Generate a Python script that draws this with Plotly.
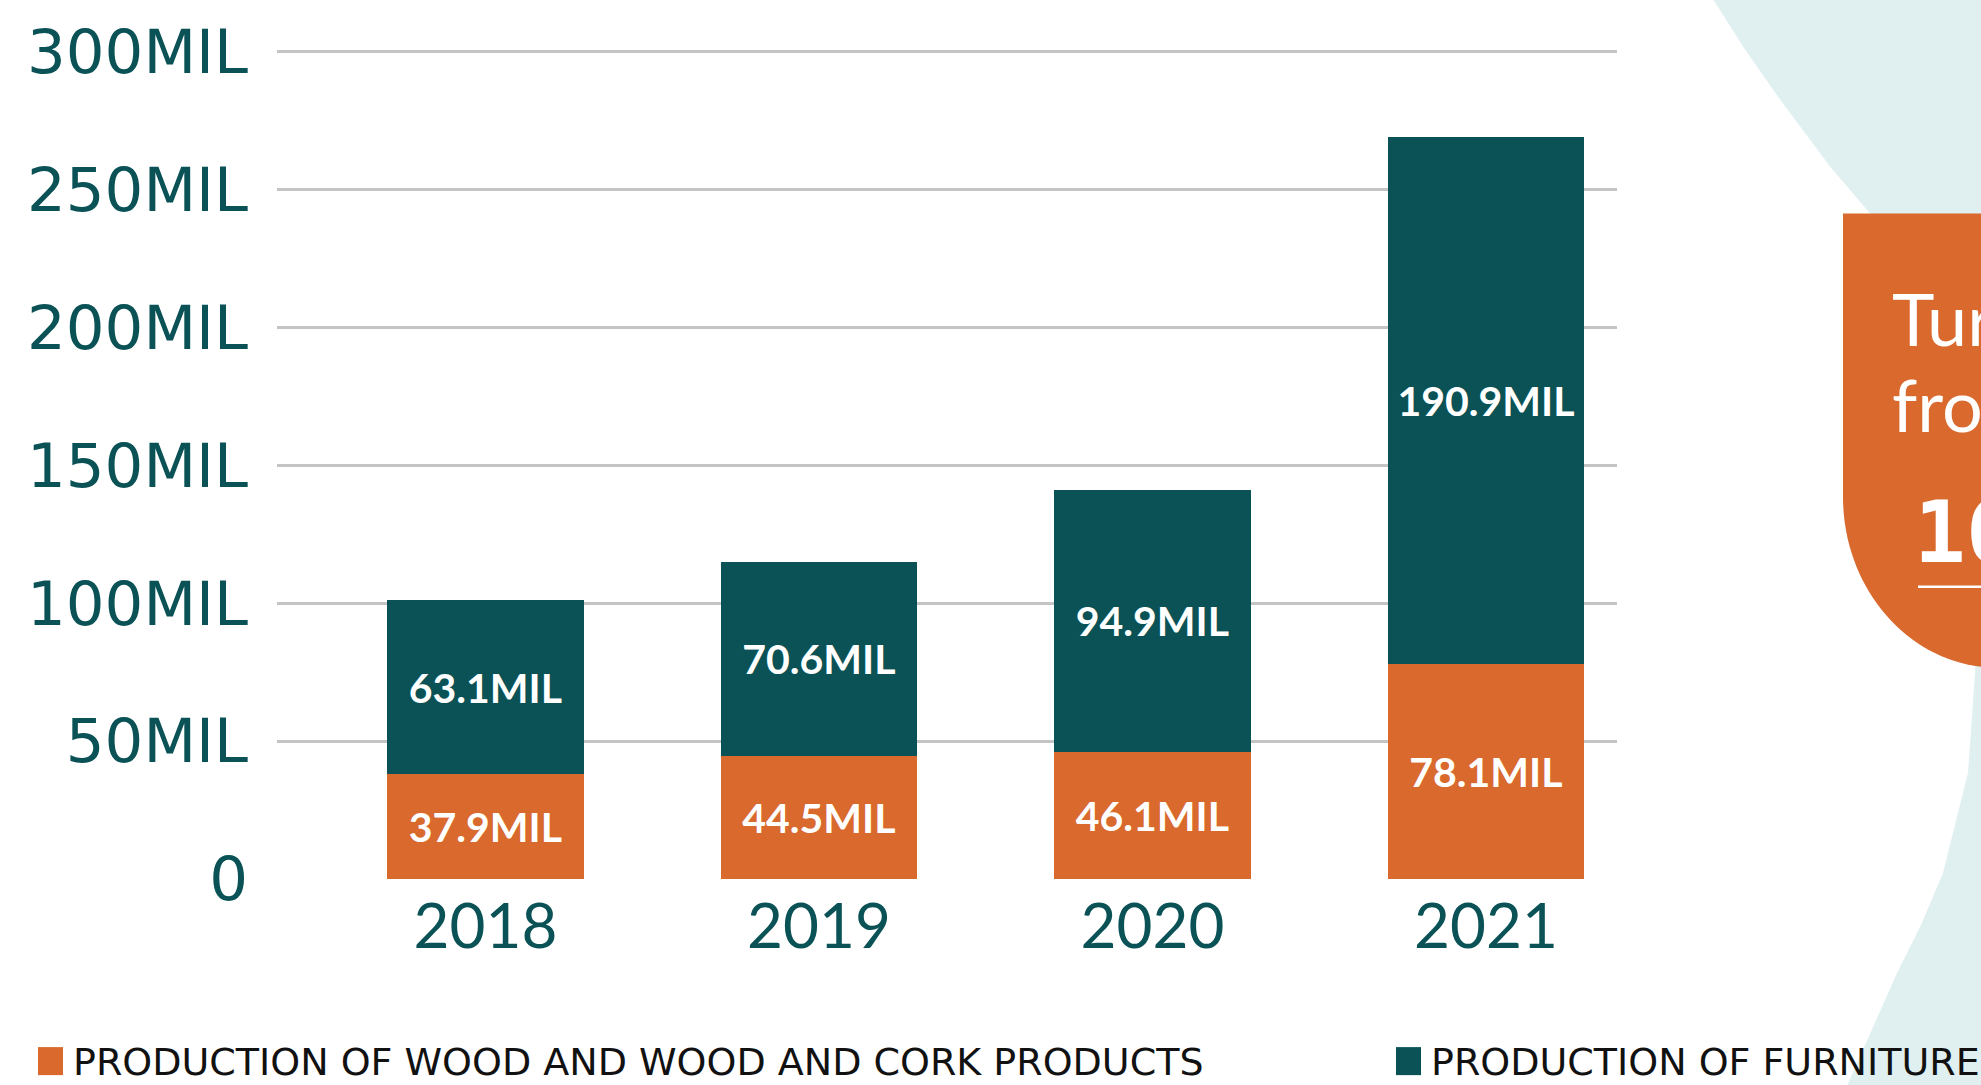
import plotly.graph_objects as go

# ---------------- data ----------------
years = ["2018", "2019", "2020", "2021"]
wood_cork = [37.9, 44.5, 46.1, 78.1]
furniture = [63.1, 70.6, 94.9, 190.9]
series_names = ["PRODUCTION OF WOOD AND WOOD AND CORK PRODUCTS", "PRODUCTION OF FURNITURE"]
y_tick_vals = [0, 50, 100, 150, 200, 250, 300]
y_tick_text = ["0", "50MIL", "100MIL", "150MIL", "200MIL", "250MIL", "300MIL"]
callout_lines = ["Turnover", "from", "16"]

# ---------------- style ----------------
ORANGE = "#D9692D"
TEAL = "#0A5256"
LIGHT = "#E0F0F0"
GRID = "#C4C4C4"

W, H = 1981, 1085
Y_MAX = 302
PX_PER_UNIT = (879 - 52) / 300.0
L_, R_, B_ = 277, 1617, 879
T_ = B_ - Y_MAX * PX_PER_UNIT  # plot area top in pixels


def px(x):
    return (x - L_) / (R_ - L_)


def py(y):
    return (B_ - y) / (B_ - T_)


def path(cmds):
    out = []
    for c in cmds:
        if isinstance(c, str):
            out.append(c)
        else:
            out.append(f"{px(c[0]):.5f},{py(c[1]):.5f}")
    return " ".join(out)


fig = go.Figure()
for vals, name, col in [(wood_cork, series_names[0], ORANGE), (furniture, series_names[1], TEAL)]:
    fig.add_trace(go.Bar(
        x=years, y=vals, name=name,
        marker=dict(color=col, line=dict(width=0)),
        texttemplate="%{y:.1f}MIL", textposition="inside", insidetextanchor="middle",
        textfont=dict(family="Lato", size=41, color="white", weight="bold"),
        width=0.59,
    ))

shapes = []
# light teal background blobs
upper_pts = [(1712, -2), (1745, 50), (1780, 100), (1830, 167), (1870, 214), (1920, 290), (1990, 420)]
cmds = ["M", upper_pts[0]]
for p in upper_pts[1:]:
    cmds += ["L", p]
cmds += ["L", (1990, -2), "Z"]
shapes.append(dict(type="path", xref="paper", yref="paper", layer="below",
                   path=path(cmds), fillcolor=LIGHT, line=dict(width=0)))

lower_pts = [(1978, 620), (1975, 673), (1968, 773), (1943, 873), (1921, 925), (1897, 973), (1845, 1090)]
cmds = ["M", lower_pts[0]]
for p in lower_pts[1:]:
    cmds += ["L", p]
cmds += ["L", (1990, 1090), "L", (1990, 620), "Z"]
shapes.append(dict(type="path", xref="paper", yref="paper", layer="below",
                   path=path(cmds), fillcolor=LIGHT, line=dict(width=0)))

# orange callout box
shapes.append(dict(
    type="path", xref="paper", yref="paper", layer="below",
    path=path(["M", (1843, 214), "L", (2100, 214), "L", (2100, 668), "L", (1998, 668),
               "C", (1912, 668), (1843, 591), (1843, 497), "Z"]),
    fillcolor=ORANGE, line=dict(width=0),
))
# underline in callout
shapes.append(dict(
    type="line", xref="paper", yref="paper",
    x0=px(1918), x1=px(2100), y0=py(587), y1=py(587),
    line=dict(color="white", width=2.5),
))
# legend swatches
shapes.append(dict(type="rect", xref="paper", yref="paper",
                   x0=px(38), x1=px(63), y0=py(1047), y1=py(1075),
                   fillcolor=ORANGE, line=dict(width=0)))
shapes.append(dict(type="rect", xref="paper", yref="paper",
                   x0=px(1396), x1=px(1421), y0=py(1047), y1=py(1075),
                   fillcolor=TEAL, line=dict(width=0)))

annotations = [
    dict(text=series_names[0], xref="paper", yref="paper", x=px(71), y=py(1062),
         xanchor="left", yanchor="middle", showarrow=False,
         font=dict(family="DejaVu Sans", size=38, color="#111111")),
    dict(text=series_names[1], xref="paper", yref="paper", x=px(1429), y=py(1062),
         xanchor="left", yanchor="middle", showarrow=False,
         font=dict(family="DejaVu Sans", size=38, color="#111111")),
    dict(text=callout_lines[0], xref="paper", yref="paper", x=px(1890), y=py(318),
         xanchor="left", yanchor="middle", showarrow=False,
         font=dict(family="Lato", size=72, color="white")),
    dict(text=callout_lines[1], xref="paper", yref="paper", x=px(1890), y=py(404),
         xanchor="left", yanchor="middle", showarrow=False,
         font=dict(family="Lato", size=72, color="white")),
    dict(text=callout_lines[2], xref="paper", yref="paper", x=px(1912), y=py(532),
         xanchor="left", yanchor="middle", showarrow=False,
         font=dict(family="DejaVu Sans Mono", size=86, color="white", weight="bold")),
]

fig.update_layout(
    width=W, height=H,
    margin=dict(l=L_, r=W - R_, t=T_, b=H - B_, pad=0),
    paper_bgcolor="white", plot_bgcolor="white",
    barmode="stack", showlegend=False,
    shapes=shapes, annotations=annotations,
    xaxis=dict(
        type="category", range=[-0.625, 3.393], showgrid=False, zeroline=False,
        showline=False, ticks="",
        tickfont=dict(family="Lato", size=62, color=TEAL),
        ticklabelstandoff=6,
    ),
    yaxis=dict(
        range=[0, Y_MAX], tickvals=y_tick_vals, ticktext=y_tick_text,
        showgrid=True, gridcolor=GRID, gridwidth=2.5, zeroline=False,
        showline=False, ticks="",
        tickfont=dict(family="DejaVu Sans", size=61, color=TEAL),
        ticklabelstandoff=28,
    ),
)

fig.write_html("out.html", config={"displayModeBar": False},
               post_script="document.body.style.margin='0';document.body.style.overflow='hidden';")
